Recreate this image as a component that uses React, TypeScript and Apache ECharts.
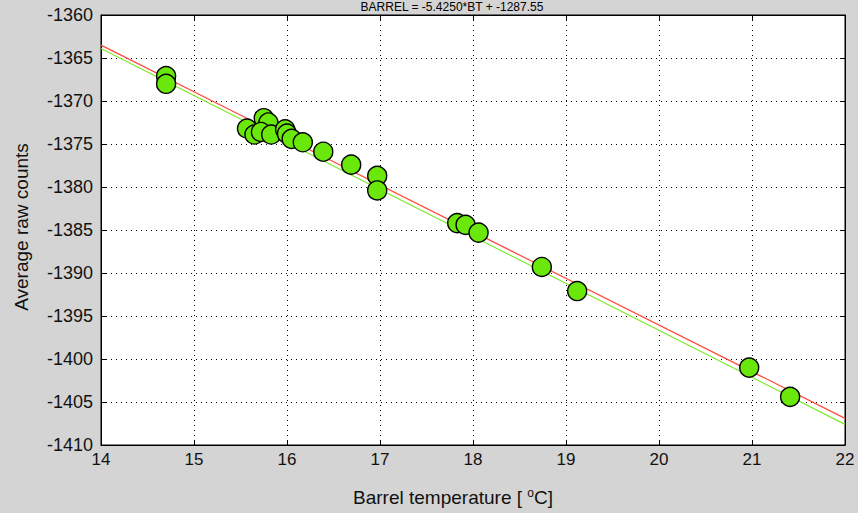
import React, { useEffect, useRef } from "react";
import * as echarts from "echarts";

const temps = [
  14.7, 14.7,
  15.57, 15.65, 15.75, 15.8, 15.72, 15.83, 15.98, 16.0, 16.05, 16.17, 16.39,
  16.69, 16.97, 16.97,
  17.83, 17.92, 18.06,
  18.74, 19.12, 20.97, 21.41,
];
const counts = [
  -1367.1, -1368.0,
  -1373.2, -1373.9, -1372.0, -1372.5, -1373.6, -1373.9, -1373.3, -1373.8, -1374.4, -1374.8, -1375.9,
  -1377.4, -1378.7, -1380.4,
  -1384.2, -1384.4, -1385.3,
  -1389.3, -1392.1, -1401.0, -1404.4,
];
const fitTemps = [14, 22];
const redFit = [-1363.5, -1406.9];
const greenFit = [-1363.9, -1407.6];

const xMin = 14, xMax = 22, xStep = 1;
const yMin = -1410, yMax = -1360, yStep = 5;

const titleText = "BARREL = -5.4250*BT + -1287.55";
const yTitle = "Average raw counts";

export default function App() {
  const ref = useRef<HTMLDivElement>(null);
  useEffect(() => {
    document.body.style.margin = "0";
    const chart = echarts.init(ref.current!, null, { renderer: "svg" });
    const axisFont = "'Liberation Sans', Arial, sans-serif";
    const narrowFont = "'Liberation Sans Narrow', 'Liberation Sans', Arial, sans-serif";
    const grid = { left: 101, right: 13, top: 15, bottom: 68 };
    const dotted = { show: true, lineStyle: { color: "#000", type: [1, 4] as any, width: 1 } };
    chart.setOption({
      animation: false,
      backgroundColor: "#d4d4d4",
      grid: { ...grid, show: true, backgroundColor: "#fff", borderColor: "#000", borderWidth: 1 },
      xAxis: [
        {
          type: "value", min: xMin, max: xMax, interval: xStep,
          axisLine: { show: true, onZero: false, lineStyle: { color: "#000" } },
          axisTick: { show: true, inside: true, length: 5, lineStyle: { color: "#000" } },
          axisLabel: { color: "#111", fontSize: 17, fontFamily: narrowFont, margin: 6 },
          splitLine: dotted,
        },
        {
          type: "value", min: xMin, max: xMax, interval: xStep, position: "top",
          axisLine: { show: true, onZero: false, lineStyle: { color: "#000" } },
          axisTick: { show: true, inside: true, length: 5, lineStyle: { color: "#000" } },
          axisLabel: { show: false }, splitLine: { show: false },
        },
      ],
      yAxis: [
        {
          type: "value", min: yMin, max: yMax, interval: yStep,
          axisLine: { show: true, onZero: false, lineStyle: { color: "#000" } },
          axisTick: { show: true, inside: true, length: 5, lineStyle: { color: "#000" } },
          axisLabel: { color: "#111", fontSize: 18, fontFamily: axisFont, margin: 8, formatter: (v: number) => String(v) },
          splitLine: dotted,
        },
        {
          type: "value", min: yMin, max: yMax, interval: yStep, position: "right",
          axisLine: { show: true, onZero: false, lineStyle: { color: "#000" } },
          axisTick: { show: true, inside: true, length: 5, lineStyle: { color: "#000" } },
          axisLabel: { show: false }, splitLine: { show: false },
        },
      ],
      series: [
        {
          type: "line", data: fitTemps.map((t, i) => [t, greenFit[i]]),
          symbol: "none", lineStyle: { color: "#7ee82a", width: 1.2 }, z: 2,
        },
        {
          type: "line", data: fitTemps.map((t, i) => [t, redFit[i]]),
          symbol: "none", lineStyle: { color: "#ff4a3a", width: 1.2 }, z: 3,
        },
        {
          type: "scatter", data: temps.map((t, i) => [t, counts[i]]),
          symbol: "circle", symbolSize: 19,
          itemStyle: { color: "#6ae80c", borderColor: "#000", borderWidth: 1.4, opacity: 1 },
          z: 4,
        },
      ],
      graphic: [
        {
          type: "text", x: 452, y: 1,
          style: {
            text: titleText, font: "12px 'Liberation Sans', Arial, sans-serif", fill: "#000",
            textAlign: "center", textVerticalAlign: "top",
          },
        },
        {
          type: "text", x: 453, y: 497,
          style: {
            text: "Barrel temperature [ {s|o}C]",
            rich: { s: { fontSize: 12, verticalAlign: "top", padding: [0, 0, 9, 0], fontFamily: narrowFont, fill: "#111" } },
            font: "19px " + narrowFont, fill: "#111",
            textAlign: "center", textVerticalAlign: "middle",
          } as any,
        },
        {
          type: "text", x: 21, y: 227, rotation: Math.PI / 2,
          style: {
            text: yTitle, font: "19px " + narrowFont, fill: "#111",
            textAlign: "center", textVerticalAlign: "middle",
          },
        },
      ],
    });
    return () => chart.dispose();
  }, []);
  return <div ref={ref} style={{ width: 858, height: 513 }} />;
}
